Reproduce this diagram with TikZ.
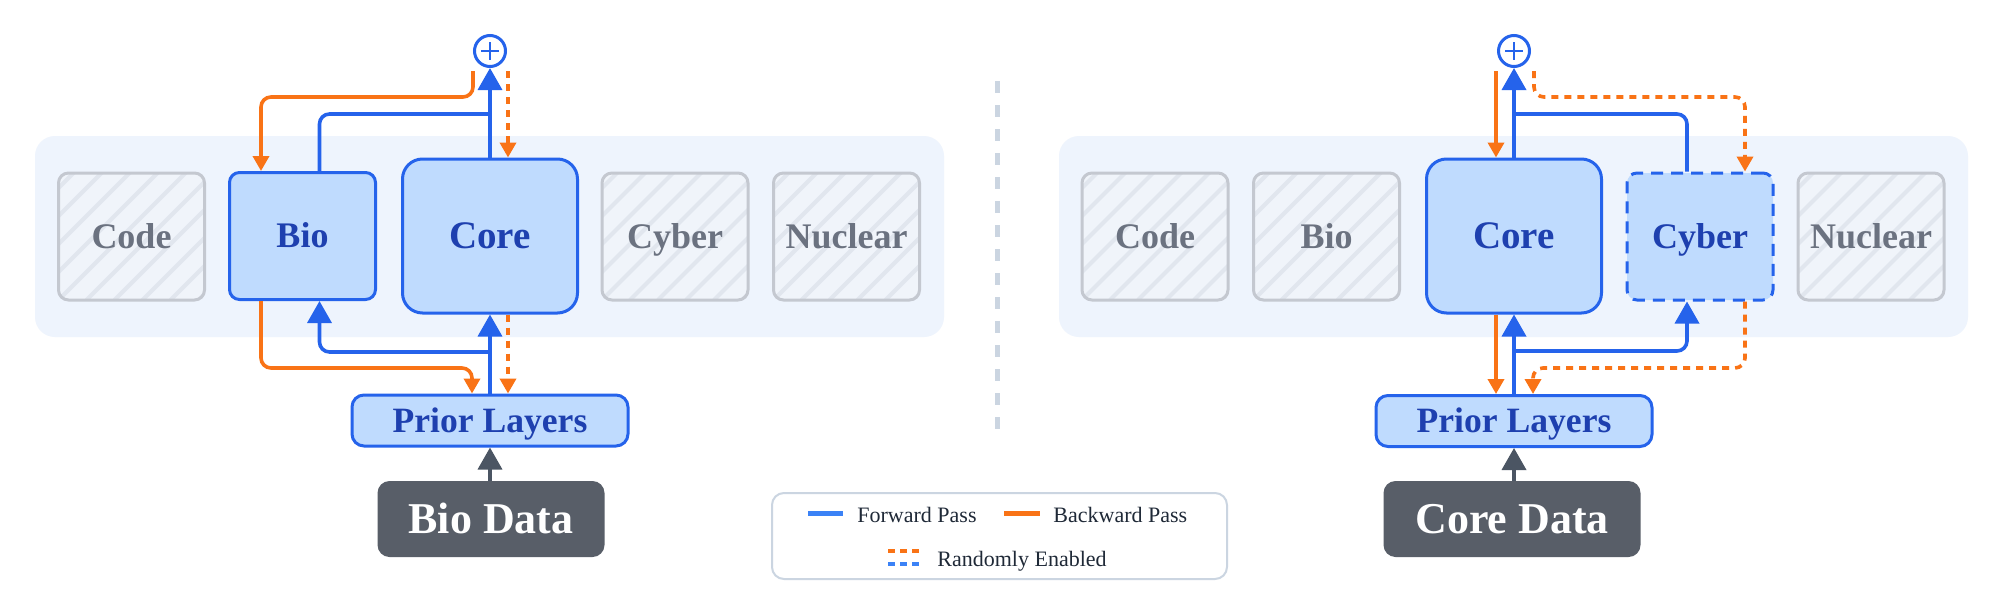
\documentclass[tikz,border=0pt]{standalone}
\usepackage{fontspec}
\setmainfont{Liberation Serif}
\usetikzlibrary{arrows.meta,calc}
\definecolor{fwdblue}{HTML}{2563EB}
\definecolor{bwdorange}{HTML}{F97316}
\definecolor{actfill}{HTML}{BFDBFE}
\definecolor{acttext}{HTML}{1E40AF}
\definecolor{panelbg}{HTML}{EEF4FD}
\definecolor{inbox}{HTML}{F0F4FA}
\definecolor{inline}{HTML}{C4C8D0}
\definecolor{hatchcol}{HTML}{E1E6EE}
\definecolor{intext}{HTML}{6B7280}
\definecolor{datafill}{HTML}{585E68}
\definecolor{dataarrow}{HTML}{4B5563}
\definecolor{divcol}{HTML}{CBD5E1}
\definecolor{legtextcol}{HTML}{1F2937}
\definecolor{legblue}{HTML}{3B82F6}
\tikzset{
  panel/.style={fill=panelbg, draw=none, rounded corners=10pt, inner sep=0pt},
  boxbase/.style={line width=1.5pt, rounded corners=5pt, minimum width=73pt, minimum height=63.5pt, inner sep=0pt,
    text height=11.9pt, text depth=0pt, font=\fontsize{18}{20}\selectfont\bfseries},
  inactive/.style={boxbase, draw=inline, fill=inbox, text=intext,
    path picture={\foreach \k in {-6,...,6}{\draw[hatchcol, line width=2pt] ($(path picture bounding box.south west)+(\k*14pt,0pt)$) -- ++(90pt,90pt);}}},
  active/.style={boxbase, draw=fwdblue, fill=actfill, text=acttext},
  corebox/.style={active, minimum width=87.5pt, minimum height=77pt, rounded corners=10pt, text height=12.9pt, font=\fontsize{19.5}{22}\selectfont\bfseries},
  randbox/.style={active, dash pattern=on 6pt off 4pt},
  priorbox/.style={draw=fwdblue, line width=1.5pt, fill=actfill, rounded corners=6pt, minimum width=138pt, minimum height=25.5pt, inner sep=0pt,
    text height=11.8pt, text depth=0pt, text=acttext, font=\fontsize{17.8}{20}\selectfont\bfseries},
  databox/.style={fill=datafill, draw=none, rounded corners=6pt, minimum width=113.5pt, minimum height=38pt, inner sep=0pt,
    text height=14.5pt, text depth=0pt, text=white, font=\fontsize{22}{24}\selectfont\bfseries},
  sumnode/.style={circle, draw=fwdblue, line width=1.5pt, fill=white, minimum size=15.5pt, inner sep=0pt,
    path picture={\draw[fwdblue, line width=1.3pt] ($(path picture bounding box.center)+(-4.3pt,0pt)$) -- ++(8.6pt,0pt);
                  \draw[fwdblue, line width=1.3pt] ($(path picture bounding box.center)+(0pt,-4.3pt)$) -- ++(0pt,8.6pt);}},
  fwd/.style={draw=fwdblue, line width=1.8pt, rounded corners=5pt},
  fwdarr/.style={fwd, -{Triangle[width=12pt,length=11pt]}},
  bwd/.style={draw=bwdorange, line width=1.8pt, rounded corners=5pt},
  bwdarr/.style={bwd, -{Triangle[width=8pt,length=7.5pt]}},
  bwddash/.style={bwdarr, dash pattern=on 3.5pt off 3pt},
  dataarr/.style={draw=dataarrow, line width=1.8pt, -{Triangle[width=12pt,length=11pt]}},
  legendbox/.style={draw=divcol, line width=1pt, fill=white, rounded corners=6pt, inner sep=0pt},
  legtext/.style={text=legtextcol, font=\fontsize{11}{13}\selectfont, inner sep=0pt}
}
\begin{document}
\begin{tikzpicture}[x=0.5pt,y=-0.5pt]
\useasboundingbox (0,0) rectangle (1999,611);
\fill[white] (0,0) rectangle (1999,611);

% ---------- left panel ----------
\node[panel, minimum width=454.5pt, minimum height=100.5pt] (panelL) at (489.5,236.5) {};
\node[inactive] (codeL) at (131.5,236.5) {Code};
\node[active] (bioL) at (302.5,236) {Bio};
\node[corebox] (coreL) at (490,236) {Core};
\node[inactive] (cyberL) at (675,236.5) {Cyber};
\node[inactive] (nucL) at (846.5,236.5) {Nuclear};
\node[sumnode] (sumL) at (490,51) {};
\node[priorbox] (priorL) at (490,420.5) {Prior Layers};
\node[databox] (dataL) at (491,519) {Bio Data};

\coordinate (jL1) at (490,114);
\coordinate (jL2) at (490,352);
\coordinate (bL1) at (261,97);
\coordinate (bL2) at (472,368);

\draw[fwdarr] (coreL.north) -- (sumL.south);
\draw[fwd] ($(bioL.north)+(17,0)$) |- (jL1);
\draw[bwdarr] ($(sumL.south)+(-17,3)$) |- (bL1) -- (bL1 |- bioL.north);
\draw[bwddash] ($(sumL.south)+(18,3)$) -- ($(coreL.north)+(18,0)$);
\draw[fwdarr] (priorL.north) -- (coreL.south);
\draw[fwdarr] (jL2) -| ($(bioL.south)+(17,0)$);
\draw[bwdarr] ($(bioL.south)+(-41.5,0)$) |- (bL2) -- (bL2 |- priorL.north);
\draw[bwddash] ($(coreL.south)+(18,0)$) -- ($(priorL.north)+(18,0)$);
\draw[dataarr] (dataL.north -| priorL.south) -- (priorL.south);

% ---------- divider ----------
\draw[divcol, line width=2.5pt, dash pattern=on 6pt off 6pt] (997,81) -- (997,430);

% ---------- right panel ----------
\node[panel, minimum width=454.5pt, minimum height=100.5pt] (panelR) at (1513.5,236.5) {};
\node[inactive] (codeR) at (1155,236.5) {Code};
\node[inactive] (bioR) at (1326.5,236.5) {Bio};
\node[corebox] (coreR) at (1514,236) {Core};
\node[randbox] (cyberR) at (1700,236.5) {Cyber};
\node[inactive] (nucR) at (1871,236.5) {Nuclear};
\node[sumnode] (sumR) at (1514,51) {};
\node[priorbox] (priorR) at (1514,421) {Prior Layers};
\node[databox, minimum width=128.5pt] (dataR) at (1512,519) {Core Data};

\coordinate (jR1) at (1514,114);
\coordinate (jR2) at (1514,351);
\coordinate (bR1) at (1745,97);
\coordinate (bR2) at (1533,368);

\draw[fwdarr] (coreR.north) -- (sumR.south);
\draw[fwd] ($(cyberR.north)+(-13,0)$) |- (jR1);
\draw[bwdarr] ($(sumR.south)+(-18,3)$) -- ($(coreR.north)+(-18,0)$);
\draw[bwddash] ($(sumR.south)+(20,3)$) |- (bR1) -- (bR1 |- cyberR.north);
\draw[fwdarr] (priorR.north) -- (coreR.south);
\draw[fwdarr] (jR2) -| ($(cyberR.south)+(-13,0)$);
\draw[bwdarr] ($(coreR.south)+(-18,0)$) -- ($(priorR.north)+(-18,0)$);
\draw[bwddash] ($(cyberR.south)+(45,0)$) |- (bR2) -- (bR2 |- priorR.north);
\draw[dataarr] (dataR.north -| priorR.south) -- (priorR.south);

% ---------- legend ----------
\node[legendbox, minimum width=227.5pt, minimum height=43pt] (legend) at (999.5,536) {};
\draw[legblue, line width=2.5pt] (808,513) -- (843,513);
\node[legtext, anchor=base west] (lfwd) at (857,522) {Forward Pass};
\draw[bwdorange, line width=2.5pt] (1004,513) -- (1040,513);
\node[legtext, anchor=base west] (lbwd) at (1053,522) {Backward Pass};
\draw[bwdorange, line width=2.2pt, dash pattern=on 3.5pt off 2.5pt] (888,551) -- (919,551);
\draw[legblue, line width=2.2pt, dash pattern=on 3.5pt off 2.5pt] (888,564) -- (919,564);
\node[legtext, anchor=base west] (lrand) at (937,566) {Randomly Enabled};
\end{tikzpicture}
\end{document}
